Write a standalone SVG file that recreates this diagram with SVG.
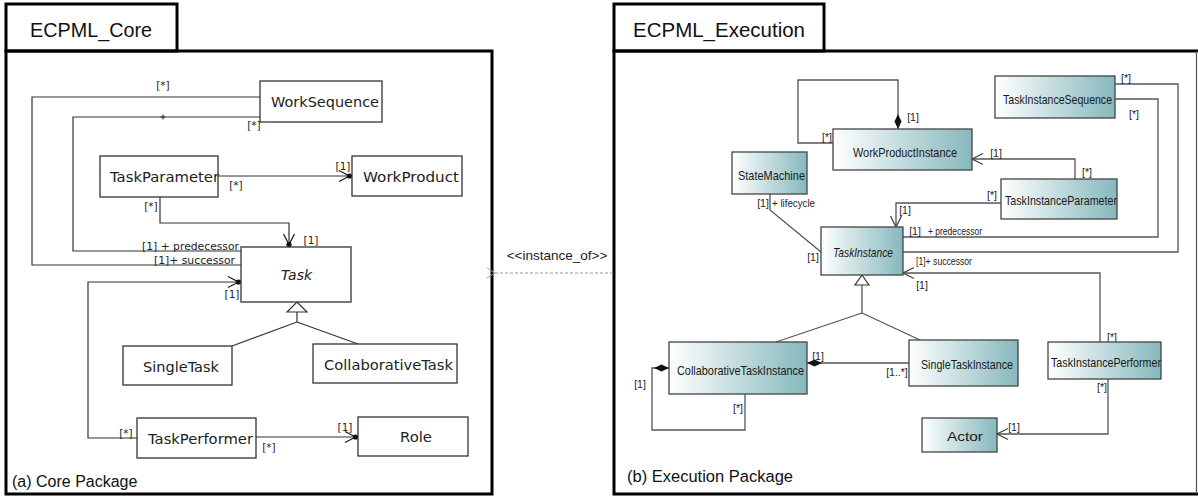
<svg xmlns="http://www.w3.org/2000/svg" width="1198" height="498" viewBox="0 0 1198 498">
<style>
.frame{fill:none;stroke:#000;stroke-width:3}
.title{font-family:"Liberation Sans",Arial,sans-serif;font-size:20px;fill:#111}
.caption{font-family:"Liberation Sans",Arial,sans-serif;font-size:16px;fill:#111}
.lbox{fill:#fff;stroke:#333;stroke-width:1.3}
.rbox{fill:url(#teal);stroke:#444;stroke-width:1.3}
.ltxt{font-family:"DejaVu Sans",Verdana,sans-serif;font-size:13.5px;fill:#222}
.rtxt{font-family:"Liberation Sans",Arial,sans-serif;font-size:13.5px;fill:#1a1a1a}
.llab{font-family:"DejaVu Sans",Verdana,sans-serif;font-size:10.5px;fill:#222}
.rlab{font-family:"Liberation Sans",Arial,sans-serif;font-size:10.5px;fill:#222}
.lc{fill:none;stroke:#333;stroke-width:1.2}
.rc{fill:none;stroke:#555;stroke-width:1.3}
.gen{fill:#fff;stroke:#333;stroke-width:1.2}
.dash{fill:none;stroke:#999;stroke-width:1;stroke-dasharray:3 2}
</style>
<defs>
<linearGradient id="teal" x1="0" y1="0" x2="1" y2="0">
<stop offset="0" stop-color="#ffffff"/>
<stop offset="1" stop-color="#86b8bd"/>
</linearGradient>
<marker id="openDot" markerUnits="userSpaceOnUse" markerWidth="16" markerHeight="14" viewBox="0 0 16 14" refX="15" refY="7" orient="auto" overflow="visible">
<path d="M2,1.5 L12.5,7 L2,12.5" fill="none" stroke="#222" stroke-width="1.3"/>
<circle cx="12.5" cy="7" r="2.6" fill="#111"/>
</marker>
<marker id="open" markerUnits="userSpaceOnUse" markerWidth="12" markerHeight="14" viewBox="0 0 12 14" refX="11" refY="7" orient="auto" overflow="visible">
<path d="M0,1.5 L11,7 L0,12.5" fill="none" stroke="#444" stroke-width="1.3"/>
</marker>
<marker id="openGray" markerUnits="userSpaceOnUse" markerWidth="12" markerHeight="14" viewBox="0 0 12 14" refX="1" refY="7" orient="auto" overflow="visible">
<path d="M9,2 L1,7 L9,12" fill="none" stroke="#999" stroke-width="1"/>
</marker>
<marker id="diamond" markerUnits="userSpaceOnUse" markerWidth="16" markerHeight="8" viewBox="0 0 16 8" refX="0" refY="4" orient="auto" overflow="visible">
<path d="M0,4 L7.5,0.5 L15,4 L7.5,7.5Z" fill="#111"/>
</marker>
</defs>
<rect width="1198" height="498" fill="#fff"/>

<g id="pkg-core">
<rect class="frame" x="6" y="4" width="171" height="47"/>
<rect class="frame" x="6" y="51" width="486" height="443"/>
<text class="title" x="30" y="37" textLength="122" lengthAdjust="spacingAndGlyphs">ECPML_Core</text>
<text class="caption" x="12" y="487">(a) Core Package</text>
</g>

<g id="pkg-exec">
<rect class="frame" x="614" y="4" width="210" height="47"/>
<path class="frame" d="M1198,51 H614 V494 H1198"/>
<path d="M1196.5,51 V494" stroke="#555" stroke-width="1.2" fill="none"/>
<text class="title" x="633" y="37" textLength="172" lengthAdjust="spacingAndGlyphs">ECPML_Execution</text>
<text class="caption" x="627" y="482" textLength="166" lengthAdjust="spacingAndGlyphs">(b) Execution Package</text>
</g>

<g id="connectors">
<!-- core -->
<path class="lc" d="M260,97 H32 V265 H241"/>
<path class="lc" d="M260,117 H73 V251 H241"/>
<path class="lc" d="M163,114.5 V119.5 M160.5,117 H165.5"/>
<path class="lc" d="M218,176 H352" marker-end="url(#openDot)"/>
<path class="lc" d="M160,197 V223 H289 V247" marker-end="url(#openDot)"/>
<path class="lc" d="M137,438 H88 V282 H241" marker-end="url(#openDot)"/>
<path class="lc" d="M256,437 H358" marker-end="url(#openDot)"/>
<path class="lc" d="M297,312 V322 M297,322 L232,346 M297,322 L358,344"/>
<polygon class="gen" points="297,302 307,312 287,312"/>
<!-- execution -->
<path class="rc" d="M898,129 V80 H798 V143 H833" marker-start="url(#diamond)"/>
<path class="rc" d="M1115,84 H1178 V252 H903"/>
<path class="rc" d="M1115,99 H1158 V237 H903"/>
<path class="rc" d="M1075,179 V159 H972" marker-end="url(#open)"/>
<path class="rc" d="M1001,203 H896 V227" marker-end="url(#open)"/>
<path class="rc" d="M770,194 V210 L821,252"/>
<path class="rc" d="M862,285 V313 M862,313 L776,342 M862,313 L920,340"/>
<polygon class="gen" points="862,275 869,285 855,285"/>
<path class="rc" d="M807,363 H909" marker-start="url(#diamond)"/>
<path class="rc" d="M669,368 H652 V430 H745 V394" marker-start="url(#diamond)"/>
<path class="rc" d="M1100,342 V273 H903" marker-end="url(#open)"/>
<path class="rc" d="M1108,379 V434 H997" marker-end="url(#open)"/>
<!-- instance_of -->
<path class="dash" d="M613,273 H495" marker-end="url(#openGray)"/>
<text x="557" y="260" text-anchor="middle" font-family="Liberation Sans, Arial, sans-serif" font-size="13.5" fill="#222">&lt;&lt;instance_of&gt;&gt;</text>
<!-- core labels -->
<text class="llab" x="163" y="89" text-anchor="middle">[*]</text>
<text class="llab" x="254" y="129" text-anchor="middle">[*]</text>
<text class="llab" x="236" y="189" text-anchor="middle">[*]</text>
<text class="llab" x="343" y="170" text-anchor="middle">[1]</text>
<text class="llab" x="151" y="210" text-anchor="middle">[*]</text>
<text class="llab" x="311" y="244" text-anchor="middle">[1]</text>
<text class="llab" x="142" y="250" textLength="97" lengthAdjust="spacingAndGlyphs" font-size="12">[1] + predecessor</text>
<text class="llab" x="154" y="264" textLength="81" lengthAdjust="spacingAndGlyphs" font-size="12">[1]+ successor</text>
<text class="llab" x="232" y="298" text-anchor="middle">[1]</text>
<text class="llab" x="126" y="437" text-anchor="middle">[*]</text>
<text class="llab" x="269" y="451" text-anchor="middle">[*]</text>
<text class="llab" x="345" y="431" text-anchor="middle">[1]</text>
<!-- execution labels -->
<text class="rlab" x="827" y="141" text-anchor="middle">[*]</text>
<text class="rlab" x="913" y="121" text-anchor="middle">[1]</text>
<text class="rlab" x="1126" y="82" text-anchor="middle">[*]</text>
<text class="rlab" x="1134" y="118" text-anchor="middle">[*]</text>
<text class="rlab" x="996" y="157" text-anchor="middle">[1]</text>
<text class="rlab" x="1087" y="176" text-anchor="middle">[*]</text>
<text class="rlab" x="992" y="199" text-anchor="middle">[*]</text>
<text class="rlab" x="905" y="214" text-anchor="middle">[1]</text>
<text class="rlab" x="763" y="207" text-anchor="middle">[1]</text>
<text class="rlab" x="772" y="207" textLength="43" lengthAdjust="spacingAndGlyphs">+ lifecycle</text>
<text class="rlab" x="813" y="261" text-anchor="middle">[1]</text>
<text class="rlab" x="915" y="235" text-anchor="middle">[1]</text>
<text class="rlab" x="928" y="235" textLength="54" lengthAdjust="spacingAndGlyphs">+ predecessor</text>
<text class="rlab" x="916" y="265" textLength="56" lengthAdjust="spacingAndGlyphs">[1]+ successor</text>
<text class="rlab" x="922" y="289" text-anchor="middle">[1]</text>
<text class="rlab" x="818" y="360" text-anchor="middle">[1]</text>
<text class="rlab" x="897" y="376" text-anchor="middle">[1..*]</text>
<text class="rlab" x="640" y="388" text-anchor="middle">[1]</text>
<text class="rlab" x="738" y="412" text-anchor="middle">[*]</text>
<text class="rlab" x="1112" y="341" text-anchor="middle">[*]</text>
<text class="rlab" x="1102" y="391" text-anchor="middle">[*]</text>
<text class="rlab" x="1014" y="431" text-anchor="middle">[1]</text>
</g>

<g id="WorkSequence"><rect class="lbox" x="260" y="81" width="122" height="41"/><text class="ltxt" x="271" y="107" textLength="108" lengthAdjust="spacingAndGlyphs">WorkSequence</text></g>
<g id="TaskParameter"><rect class="lbox" x="100" y="156" width="118" height="41"/><text class="ltxt" x="110" y="182" textLength="109" lengthAdjust="spacingAndGlyphs">TaskParameter</text></g>
<g id="WorkProduct"><rect class="lbox" x="352" y="156" width="110" height="40"/><text class="ltxt" x="363" y="182" textLength="96" lengthAdjust="spacingAndGlyphs">WorkProduct</text></g>
<g id="Task"><rect class="lbox" x="241" y="247" width="110" height="55"/><text class="ltxt" x="281" y="280" font-style="italic" textLength="31" lengthAdjust="spacingAndGlyphs">Task</text></g>
<g id="SingleTask"><rect class="lbox" x="123" y="346" width="109" height="39"/><text class="ltxt" x="143" y="372" textLength="76" lengthAdjust="spacingAndGlyphs">SingleTask</text></g>
<g id="CollaborativeTask"><rect class="lbox" x="313" y="344" width="144" height="39"/><text class="ltxt" x="324" y="370" textLength="129" lengthAdjust="spacingAndGlyphs">CollaborativeTask</text></g>
<g id="TaskPerformer"><rect class="lbox" x="137" y="418" width="119" height="40"/><text class="ltxt" x="148" y="444" textLength="105" lengthAdjust="spacingAndGlyphs">TaskPerformer</text></g>
<g id="Role"><rect class="lbox" x="358" y="417" width="110" height="39"/><text class="ltxt" x="400" y="442" textLength="32" lengthAdjust="spacingAndGlyphs">Role</text></g>

<g id="StateMachine"><rect class="rbox" x="732" y="152" width="75" height="42"/><text class="rtxt" x="738" y="180" textLength="67" lengthAdjust="spacingAndGlyphs">StateMachine</text></g>
<g id="WorkProductInstance"><rect class="rbox" x="833" y="129" width="139" height="41"/><text class="rtxt" x="853" y="157" textLength="104" lengthAdjust="spacingAndGlyphs">WorkProductInstance</text></g>
<g id="TaskInstanceSequence"><rect class="rbox" x="995" y="76" width="120" height="42"/><text class="rtxt" x="1003" y="104" font-size="12.5" textLength="109" lengthAdjust="spacingAndGlyphs">TaskInstanceSequence</text></g>
<g id="TaskInstanceParameter"><rect class="rbox" x="1001" y="179" width="116" height="40"/><text class="rtxt" x="1005" y="205" textLength="112" lengthAdjust="spacingAndGlyphs">TaskInstanceParameter</text></g>
<g id="TaskInstance"><rect class="rbox" x="821" y="227" width="82" height="48"/><text class="rtxt" x="833" y="257" font-style="italic" textLength="60" lengthAdjust="spacingAndGlyphs">TaskInstance</text></g>
<g id="CollaborativeTaskInstance"><rect class="rbox" x="669" y="342" width="138" height="52"/><text class="rtxt" x="677" y="375" textLength="127" lengthAdjust="spacingAndGlyphs">CollaborativeTaskInstance</text></g>
<g id="SingleTaskInstance"><rect class="rbox" x="909" y="340" width="109" height="46"/><text class="rtxt" x="921" y="369" textLength="92" lengthAdjust="spacingAndGlyphs">SingleTaskInstance</text></g>
<g id="TaskInstancePerformer"><rect class="rbox" x="1048" y="342" width="113" height="37"/><text class="rtxt" x="1051" y="367" textLength="110" lengthAdjust="spacingAndGlyphs">TaskInstancePerformer</text></g>
<g id="Actor"><rect class="rbox" x="922" y="418" width="75" height="34"/><text class="rtxt" x="947" y="441" textLength="36" lengthAdjust="spacingAndGlyphs">Actor</text></g>
</svg>
